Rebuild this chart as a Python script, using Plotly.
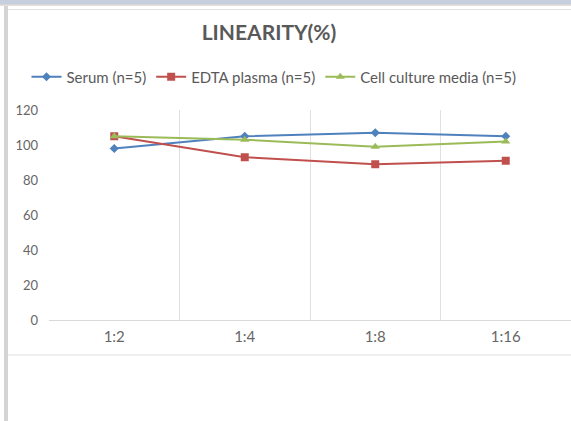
import plotly.graph_objects as go

categories = ["1:2", "1:4", "1:8", "1:16"]
serum = [98, 105, 107, 105]
edta = [105, 93, 89, 91]
cell = [105, 103, 99, 102]
y_ticks = [0, 20, 40, 60, 80, 100, 120]

FONT = "Lato, 'Open Sans', sans-serif"
GRAY = "#595959"

fig = go.Figure()
fig.add_trace(go.Scatter(x=categories, y=serum, name="Serum (n=5)", mode="lines+markers",
                         line=dict(color="#4F81BD", width=2),
                         marker=dict(symbol="diamond", size=7, color="#4F81BD")))
fig.add_trace(go.Scatter(x=categories, y=edta, name="EDTA plasma (n=5)", mode="lines+markers",
                         line=dict(color="#C0504D", width=2),
                         marker=dict(symbol="square", size=8, color="#C0504D")))
fig.add_trace(go.Scatter(x=categories, y=cell, name="Cell culture media (n=5)", mode="lines+markers",
                         line=dict(color="#9BBB59", width=2),
                         marker=dict(symbol="triangle-up", size=8, color="#9BBB59")))

PH = 210.0  # plot height in px
PW = 522.0  # plot width in px
def py(px):  # pixel y (from top) -> paper y
    return (320 - px) / PH
def pxp(px):  # pixel x -> paper x
    return (px - 49) / PW

fig.update_layout(
    width=571, height=421,
    margin=dict(l=49, r=0, t=110, b=101, autoexpand=False),
    paper_bgcolor="white", plot_bgcolor="white",
    font=dict(family=FONT, color=GRAY, size=13),
    title=dict(text="<b>LINEARITY(%)</b>", x=269 / 571, xanchor="center",
               y=1 - 33 / 421, yanchor="middle",
               font=dict(size=21, color=GRAY, family=FONT)),
    legend=dict(orientation="h", x=pxp(274), xanchor="center", y=py(77), yanchor="middle",
                font=dict(size=15, color=GRAY), itemwidth=30, tracegroupgap=0,
                bgcolor="rgba(0,0,0,0)"),
    showlegend=True,
    xaxis=dict(type="category", range=[-0.5, 3.5], tickson="boundaries",
               showgrid=True, gridcolor="#e0e0e0", gridwidth=1,
               showline=False, ticks="", tickfont=dict(size=15, color="#666666"),
               ticklabelstandoff=6, zeroline=False, fixedrange=True),
    yaxis=dict(range=[0, 120], tickvals=y_ticks, showgrid=False, zeroline=True,
               zerolinecolor="#d9d9d9", zerolinewidth=1, showline=False,
               ticks="", ticklabelstandoff=10, tickfont=dict(size=13, color="#666666"),
               fixedrange=True),
    shapes=[
        dict(type="rect", xref="paper", yref="paper", x0=pxp(0), x1=pxp(571), y0=py(5),
             y1=py(0), fillcolor="#c6cfdd", line=dict(width=0), layer="above"),
        dict(type="rect", xref="paper", yref="paper", x0=pxp(0), x1=pxp(571), y0=py(6),
             y1=py(4.5), fillcolor="#e6dedc", line=dict(width=0), layer="above"),
        dict(type="line", xref="paper", yref="paper", x0=pxp(7), x1=pxp(571),
             y0=py(9.5), y1=py(9.5), line=dict(color="#e0e0e0", width=1)),
        dict(type="line", xref="paper", yref="paper", x0=pxp(7), x1=pxp(571),
             y0=py(355), y1=py(355), line=dict(color="#e0e0e0", width=1)),
        dict(type="rect", xref="paper", yref="paper", x0=pxp(4), x1=pxp(8),
             y0=py(421), y1=py(6), fillcolor="#d4d4d4", line=dict(width=0)),
    ],
)

fig.write_html("out.html", config={"displayModeBar": False},
               post_script="document.body.style.margin='0';")
